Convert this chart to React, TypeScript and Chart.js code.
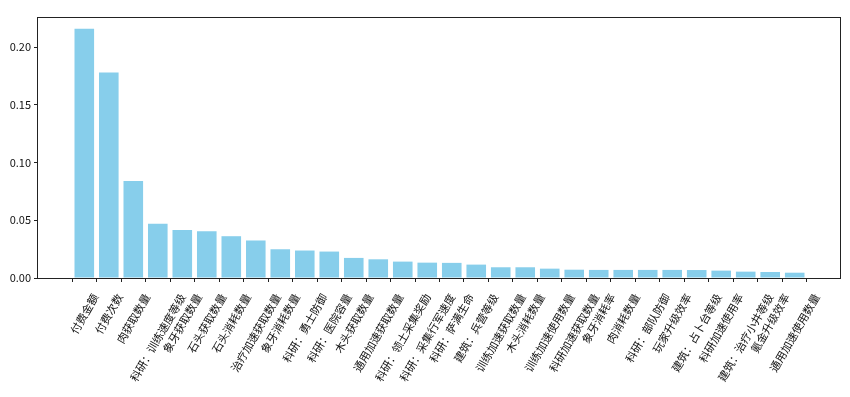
import React, { useEffect, useRef } from "react";
import { Chart, registerables } from "chart.js";

Chart.register(...registerables);

const categories: string[] = [
  "付费金额",
  "付费次数",
  "肉获取数量",
  "科研：训练速度等级",
  "象牙获取数量",
  "石头获取数量",
  "石头消耗数量",
  "治疗加速获取数量",
  "象牙消耗数量",
  "科研：勇士防御",
  "科研：医院容量",
  "木头获取数量",
  "通用加速获取数量",
  "科研：领土采集奖励",
  "科研：采集行军速度",
  "科研：萨满生命",
  "建筑：兵营等级",
  "训练加速获取数量",
  "木头消耗数量",
  "训练加速使用数量",
  "科研加速获取数量",
  "象牙消耗率",
  "肉消耗数量",
  "科研：部队防御",
  "玩家升级效率",
  "建筑：占卜台等级",
  "科研加速使用率",
  "建筑：治疗小井等级",
  "氪金升级效率",
  "通用加速使用数量",
];

const importance: number[] = [
  0.216, 0.178, 0.084, 0.047, 0.0415, 0.0406, 0.0362, 0.0325, 0.0249, 0.0238,
  0.0229, 0.0174, 0.0162, 0.0142, 0.0133, 0.0131, 0.0116, 0.0093, 0.0093, 0.0081,
  0.0072, 0.007, 0.007, 0.007, 0.007, 0.0069, 0.0064, 0.0055, 0.0052, 0.0046,
];

const yTicks: number[] = [0, 0.05, 0.1, 0.15, 0.2];

const FONT = '"Noto Sans CJK SC", "Noto Sans", sans-serif';

export default function App() {
  const ref = useRef<HTMLCanvasElement>(null);

  useEffect(() => {
    document.body.style.margin = "0";
    const canvas = ref.current;
    if (!canvas) return;

    const n = categories.length;
    const margin = 0.05 * ((n - 1 + 0.4) - (-0.4));

    const framePlugin = {
      id: "frameAndLabels",
      afterDraw(chart: any) {
        const ctx = chart.ctx as CanvasRenderingContext2D;
        const { left, right, top, bottom } = chart.chartArea;
        ctx.save();
        ctx.strokeStyle = "#222";
        ctx.lineWidth = 1;
        ctx.strokeRect(Math.round(left) - 0.5, Math.round(top) + 0.5, Math.round(right - left), Math.round(bottom - top));
        // rotated x labels, centred horizontally on tick (matplotlib rotation=60, ha=center)
        const size = 11;
        ctx.font = `${size}px ${FONT}`;
        ctx.fillStyle = "#111";
        ctx.textAlign = "center";
        ctx.textBaseline = "middle";
        const ang = (60 * Math.PI) / 180;
        const xs = chart.scales.x;
        const labelTop = bottom + 14;
        categories.forEach((lab, i) => {
          const w = ctx.measureText(lab).width;
          const h = size;
          const H = w * Math.sin(ang) + h * Math.cos(ang);
          const cx = xs.getPixelForValue(i);
          const cy = labelTop + H / 2;
          ctx.save();
          ctx.translate(cx, cy);
          ctx.rotate(-ang);
          ctx.fillText(lab, 0, 0);
          ctx.restore();
        });
        ctx.restore();
      },
    };

    const chart = new Chart(canvas, {
      type: "bar",
      data: {
        datasets: [
          {
            data: importance.map((v, i) => ({ x: i, y: v })),
            backgroundColor: "#87CEEB",
            borderWidth: 0,
            barPercentage: 1,
            categoryPercentage: 0.8,
          },
        ],
      },
      options: {
        animation: false,
        responsive: false,
        layout: { padding: { top: 17, right: 9, left: 0, bottom: 0 } },
        plugins: {
          legend: { display: false },
          tooltip: { enabled: false },
        },
        scales: {
          x: {
            type: "linear",
            min: -0.4 - margin,
            max: n - 1 + 0.4 + margin,
            offset: false,
            afterBuildTicks: (axis: any) => {
              axis.ticks = categories.map((_, i) => ({ value: i }));
            },
            afterFit: (scale: any) => {
              scale.height = 397 - 278;
            },
            ticks: { display: false },
            border: { display: false },
            grid: {
              drawOnChartArea: false,
              drawTicks: true,
              tickLength: 4,
              tickColor: "#222",
            },
          },
          y: {
            min: 0,
            max: 0.2261,
            afterBuildTicks: (axis: any) => {
              axis.ticks = yTicks.map((v) => ({ value: v }));
            },
            afterFit: (scale: any) => {
              scale.width = 38;
            },
            ticks: {
              font: { family: FONT, size: 11 },
              color: "#111",
              padding: 3,
              callback: (v: any) => Number(v).toFixed(2),
            },
            border: { display: false },
            grid: {
              drawOnChartArea: false,
              drawTicks: true,
              tickLength: 4,
              tickColor: "#222",
            },
          },
        },
      },
      plugins: [framePlugin],
    });

    return () => chart.destroy();
  }, []);

  return (
    <div style={{ width: 850, height: 397 }}>
      <canvas ref={ref} width={850} height={397} style={{ display: "block" }} />
    </div>
  );
}
